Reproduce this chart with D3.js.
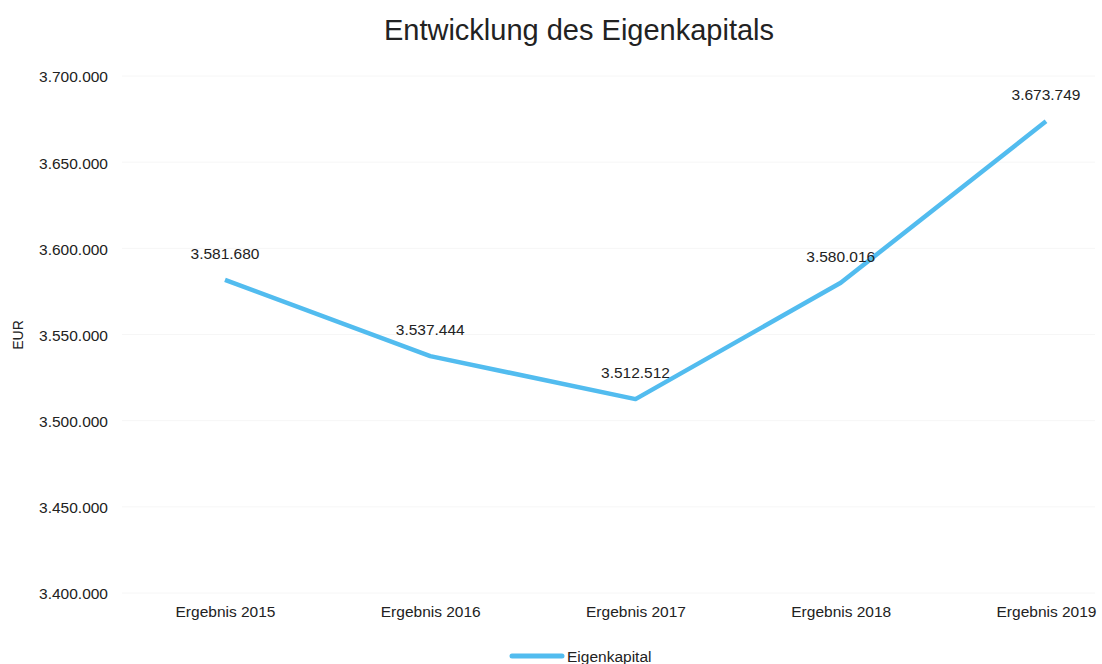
<!DOCTYPE html>
<html>
<head>
<meta charset="utf-8">
<script src="https://cdnjs.cloudflare.com/ajax/libs/d3/7.8.5/d3.min.js"></script>
<style>
  body { margin: 0; background: #fff; }
  text { font-family: "Liberation Sans", Arial, sans-serif; fill: #222; }
</style>
</head>
<body>
<div id="chart"></div>
<script>
// chart data
const categories = ["Ergebnis 2015", "Ergebnis 2016", "Ergebnis 2017", "Ergebnis 2018", "Ergebnis 2019"]
const eigenkapital = [3581680, 3537444, 3512512, 3580016, 3673749]
const yTicks = [3400000, 3450000, 3500000, 3550000, 3600000, 3650000, 3700000]
const seriesName = "Eigenkapital"

const width = 1102, height = 664
const fmt = v => d3.format(",")(v).replace(/,/g, ".")

const svg = d3.select("#chart").append("svg")
    .attr("width", width)
    .attr("height", height)

const x = d3.scalePoint()
    .domain(categories)
    .range([225, 1046])

const y = d3.scaleLinear()
    .domain([3400000, 3700000])
    .range([593, 76])

// faint grid
svg.append("g")
    .selectAll("line")
    .data(yTicks)
    .join("line")
    .attr("x1", 122).attr("x2", 1095)
    .attr("y1", d => y(d)).attr("y2", d => y(d))
    .attr("stroke", "#f6f6f6")

// y axis labels
const yAxis = svg.append("g")
    .attr("transform", "translate(108,1)")
    .call(d3.axisLeft(y).tickValues(yTicks).tickFormat(fmt).tickSize(0).tickPadding(0))
yAxis.select(".domain").remove()
yAxis.selectAll("text")
    .style("font-size", "15.5px")
    .attr("fill", "#222")

// x axis labels
const xAxis = svg.append("g")
    .attr("transform", "translate(0,606)")
    .call(d3.axisBottom(x).tickSize(0).tickPadding(0))
xAxis.select(".domain").remove()
xAxis.selectAll("text")
    .style("font-size", "15.5px")
    .attr("fill", "#222")

// title
svg.append("text")
    .attr("x", 579).attr("y", 40)
    .attr("text-anchor", "middle")
    .style("font-size", "29px")
    .text("Entwicklung des Eigenkapitals")

// y axis title
svg.append("text")
    .attr("transform", "translate(23,335) rotate(-90)")
    .attr("text-anchor", "middle")
    .style("font-size", "14px")
    .text("EUR")

// line
const line = d3.line()
    .x((d, i) => x(categories[i]))
    .y(d => y(d))

svg.append("path")
    .datum(eigenkapital)
    .attr("d", line)
    .attr("fill", "none")
    .attr("stroke", "#52bcef")
    .attr("stroke-width", 4.5)
    .attr("stroke-linejoin", "round")

// data labels
svg.append("g")
    .selectAll("text")
    .data(eigenkapital)
    .join("text")
    .attr("x", (d, i) => x(categories[i]))
    .attr("y", d => y(d) - 21)
    .attr("text-anchor", "middle")
    .style("font-size", "15.5px")
    .text(d => fmt(d))

// legend
svg.append("line")
    .attr("x1", 512).attr("x2", 562)
    .attr("y1", 656).attr("y2", 656)
    .attr("stroke", "#52bcef")
    .attr("stroke-width", 5)
    .attr("stroke-linecap", "round")
svg.append("text")
    .attr("x", 567).attr("y", 662)
    .style("font-size", "15.5px")
    .text(seriesName)
</script>
</body>
</html>
